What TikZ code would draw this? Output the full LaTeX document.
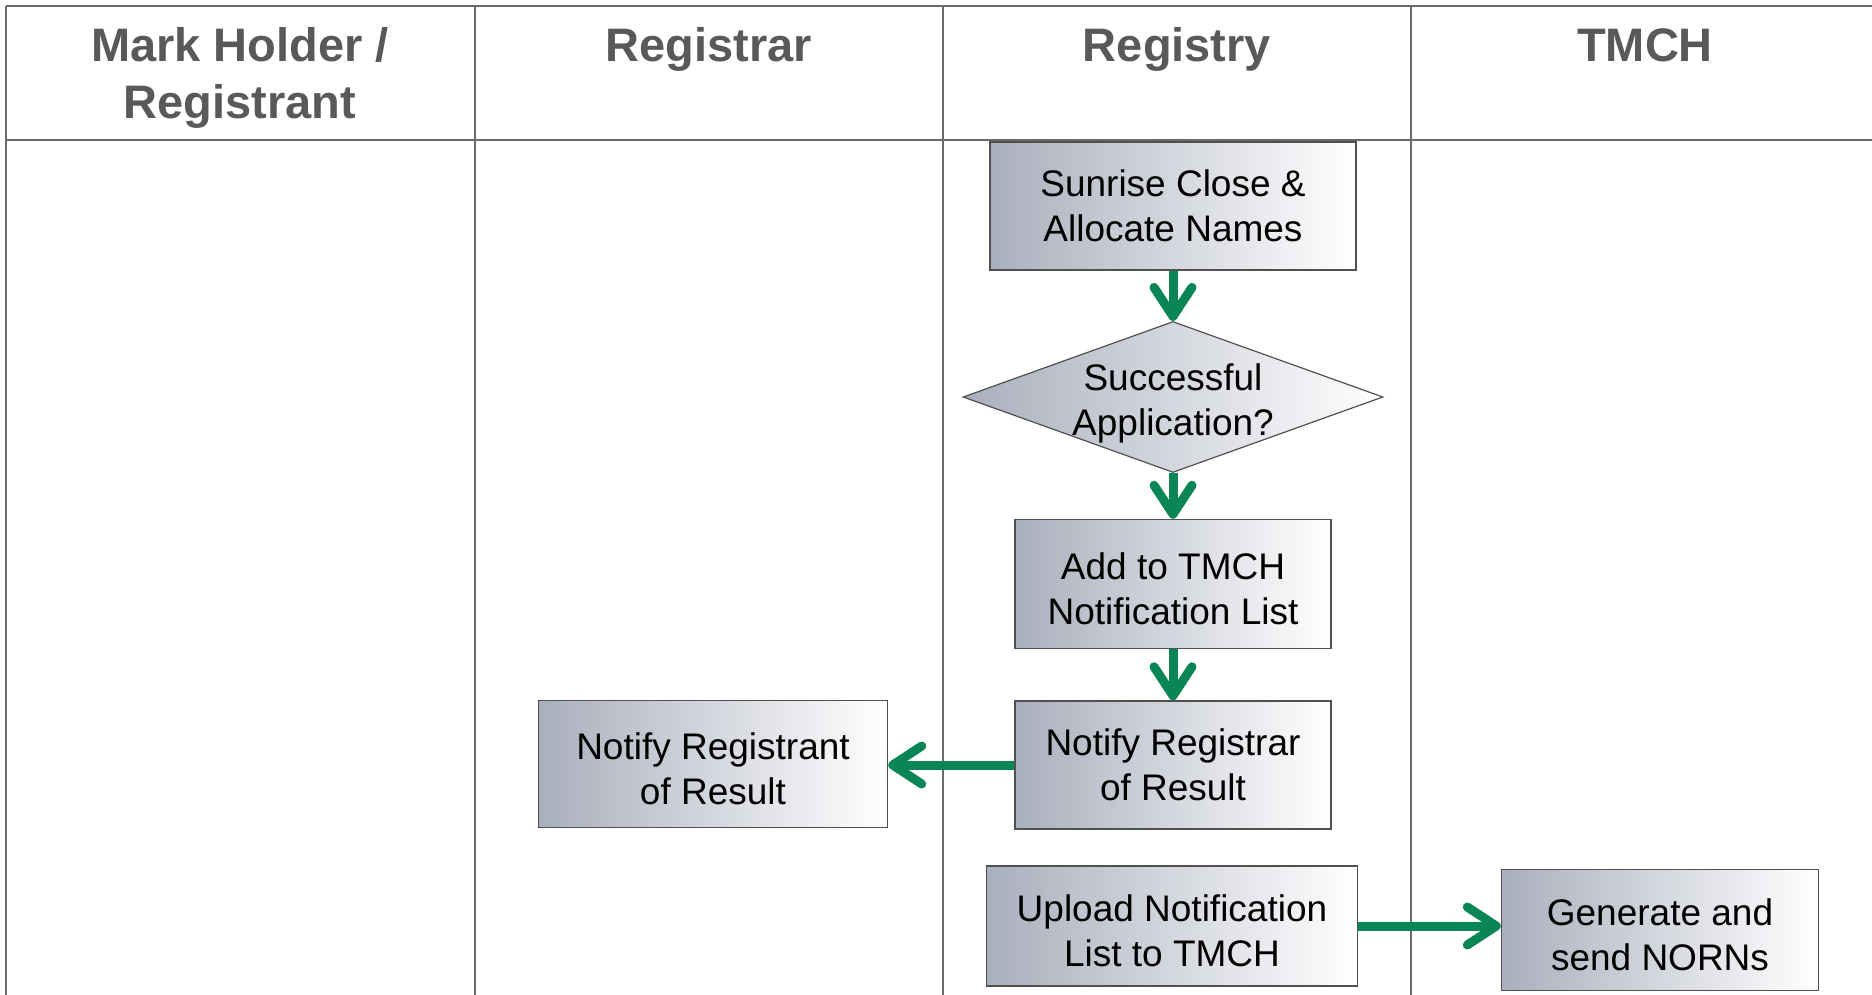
\documentclass[tikz,border=0pt]{standalone}
\usepackage{fontspec}
\setmainfont{Liberation Sans}
\usetikzlibrary{shapes.geometric,arrows.meta}
\definecolor{lanegray}{HTML}{6A6A6A}
\definecolor{headtext}{HTML}{595959}
\definecolor{boxleft}{HTML}{A9AFBC}
\definecolor{boxline}{HTML}{505050}
\definecolor{flowgreen}{HTML}{0A8555}
\newcommand{\boxstrut}{\rule{0pt}{36pt}}
\begin{document}
\begin{tikzpicture}[x=1pt,y=-1pt,
  lane/.style={draw=lanegray, line width=2.5pt},
  procbox/.style={draw=boxline, line width=1.5pt, left color=boxleft, right color=white,
    font=\fontsize{37}{45}\selectfont, align=center, inner sep=0pt},
  decision/.style={diamond, draw=boxline, line width=1.2pt, left color=boxleft, right color=white,
    inner sep=0pt},
  hdr/.style={text=headtext, font=\fontsize{47}{57}\selectfont\bfseries, align=center, anchor=base},
  flow/.style={draw=flowgreen, line width=9pt, -{Straight Barb[length=29pt,width=38pt,round]}}]
\useasboundingbox (0,0) rectangle (1872,995);
% lanes
\draw[lane] (6,6) -- (1872,6);
\draw[lane] (6,140) -- (1872,140);
\foreach \x in {6,475,943,1411} \draw[lane] (\x,6) -- (\x,995);
% headers
\node[hdr] (h1) at (240,119) {Mark Holder /\\Registrant};
\node[hdr] (h2) at (709,62) {Registrar};
\node[hdr] (h3) at (1177,62) {Registry};
\node[hdr] (h4) at (1645,62) {TMCH};
% boxes
\node[procbox, minimum width=366pt, minimum height=128pt] (sun) at (1173,206) {Sunrise Close \&\\Allocate Names};
\node[decision, minimum width=420pt, minimum height=151pt,
  label={[font=\fontsize{37}{45}\selectfont, align=center, yshift=-6pt]center:Successful\\Application?}] (dec) at (1173,397) {};
\node[procbox, minimum width=316pt, minimum height=129pt] (add) at (1173,584) {\boxstrut Add to TMCH\\Notification List};
\node[procbox, minimum width=316pt, minimum height=128pt] (nrr) at (1173,765) {Notify Registrar\\of Result};
\node[procbox, minimum width=349pt, minimum height=127pt] (nre) at (713,764) {\boxstrut Notify Registrant\\of Result};
\node[procbox, minimum width=371pt, minimum height=120pt] (up) at (1172,926) {\boxstrut Upload Notification\\List to TMCH};
\node[procbox, minimum width=317pt, minimum height=121pt] (gen) at (1660,930) {\boxstrut Generate and\\send NORNs};
% connectors
\draw[flow] (sun.south) -- (dec.north);
\draw[flow] (dec.south) -- (add.north);
\draw[flow] (add.south) -- (nrr.north);
\draw[flow] (nrr.west) -- (nrr.west -| nre.east);
\draw[flow] (up.east) -- (up.east -| gen.west);
\end{tikzpicture}
\end{document}
